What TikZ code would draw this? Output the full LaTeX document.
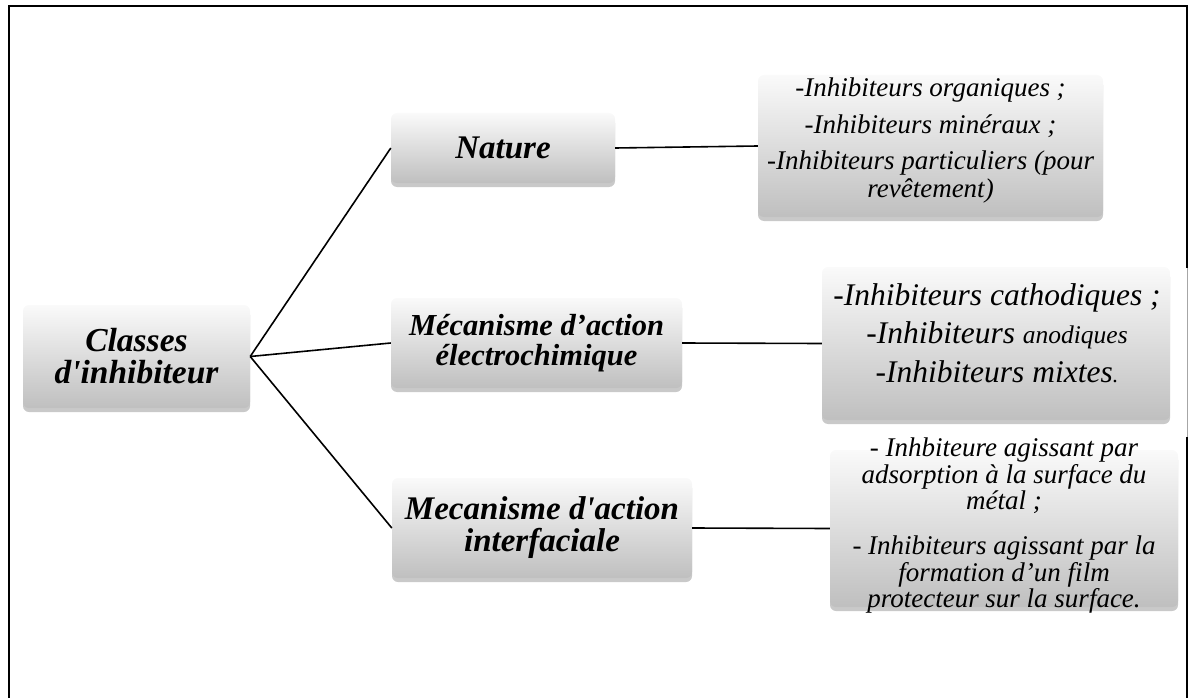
\documentclass[tikz,border=0pt]{standalone}
\usepackage{fontspec}
\setmainfont{Liberation Serif}
\usetikzlibrary{shadows}
\begin{document}
\begin{tikzpicture}[x=1pt,y=-1pt,
  box/.style={draw=none, rounded corners=6pt, top color=black!2, bottom color=black!25,
    drop shadow={shadow xshift=0pt, shadow yshift=-4pt, opacity=0.3, fill=black!70},
    inner sep=0pt, align=center},
  ltext/.style={align=center, inner sep=0pt},
  conn/.style={line width=1.6pt, black},
  frame/.style={line width=2.5pt, black}]
\useasboundingbox (0,0) rectangle (1191,698);
% frame
\draw[frame] (9,698) -- (9,6) -- (1187,6) -- (1187,268);
\draw[black!35, line width=0.8pt] (1187,268) -- (1187,437);
\draw[frame] (1187,437) -- (1187,698);
% left boxes
\node[box, minimum width=227pt, minimum height=103pt,
  font=\fontsize{33.5}{32}\selectfont\bfseries\itshape] (classes) at (136.5,356.5)
  {Classes\\d\textquotesingle inhibiteur};
\node[box, minimum width=224pt, minimum height=70pt,
  font=\fontsize{33}{33}\selectfont\bfseries\itshape] (nature) at (503,148) {Nature};
\node[box, minimum width=291pt, minimum height=90pt,
  font=\fontsize{30.5}{30}\selectfont\bfseries\itshape] (electro) at (536.5,343)
  {Mécanisme d’action\\électrochimique};
\node[box, minimum width=300pt, minimum height=100pt,
  font=\fontsize{33}{32}\selectfont\bfseries\itshape] (interf) at (542,528)
  {Mecanisme d\textquotesingle action\\interfaciale};
% right boxes
\node[box, minimum width=345pt, minimum height=142pt] (l1) at (930.5,146) {};
\node[ltext, font=\fontsize{27}{28}\selectfont\itshape] (t1) at (930.5,141)
  {-Inhibiteurs organiques ;\\[8.5pt]-Inhibiteurs minéraux ;\\[8.5pt]-Inhibiteurs particuliers (pour\\revêtement)};
\node[box, minimum width=348pt, minimum height=153pt] (l2) at (996,343.5) {};
\node[ltext, font=\fontsize{31.5}{38.5}\selectfont\itshape] (t2) at (997,333)
  {-Inhibiteurs cathodiques ;\\-Inhibiteurs {\fontsize{25.5}{38.5}\selectfont anodiques}\\-Inhibiteurs mixtes{\fontsize{22}{38.5}\selectfont .}};
\node[box, minimum width=348pt, minimum height=157pt] (l3) at (1004,528.5) {};
\node[ltext, font=\fontsize{27}{26.5}\selectfont\itshape] (t3) at (1004,526)
  {- Inhbiteure agissant par\\adsorption à la surface du\\métal ;\\[18.5pt]- Inhibiteurs agissant par la\\formation d’un film\\protecteur sur la surface.};
% connectors
\draw[conn] (classes.east) -- (nature.west);
\draw[conn] (classes.east) -- (electro.west);
\draw[conn] (classes.east) -- (interf.west);
\draw[conn] (nature.east) -- (l1.west);
\draw[conn] (electro.east) -- (l2.west);
\draw[conn] (interf.east) -- (l3.west);
\end{tikzpicture}
\end{document}
